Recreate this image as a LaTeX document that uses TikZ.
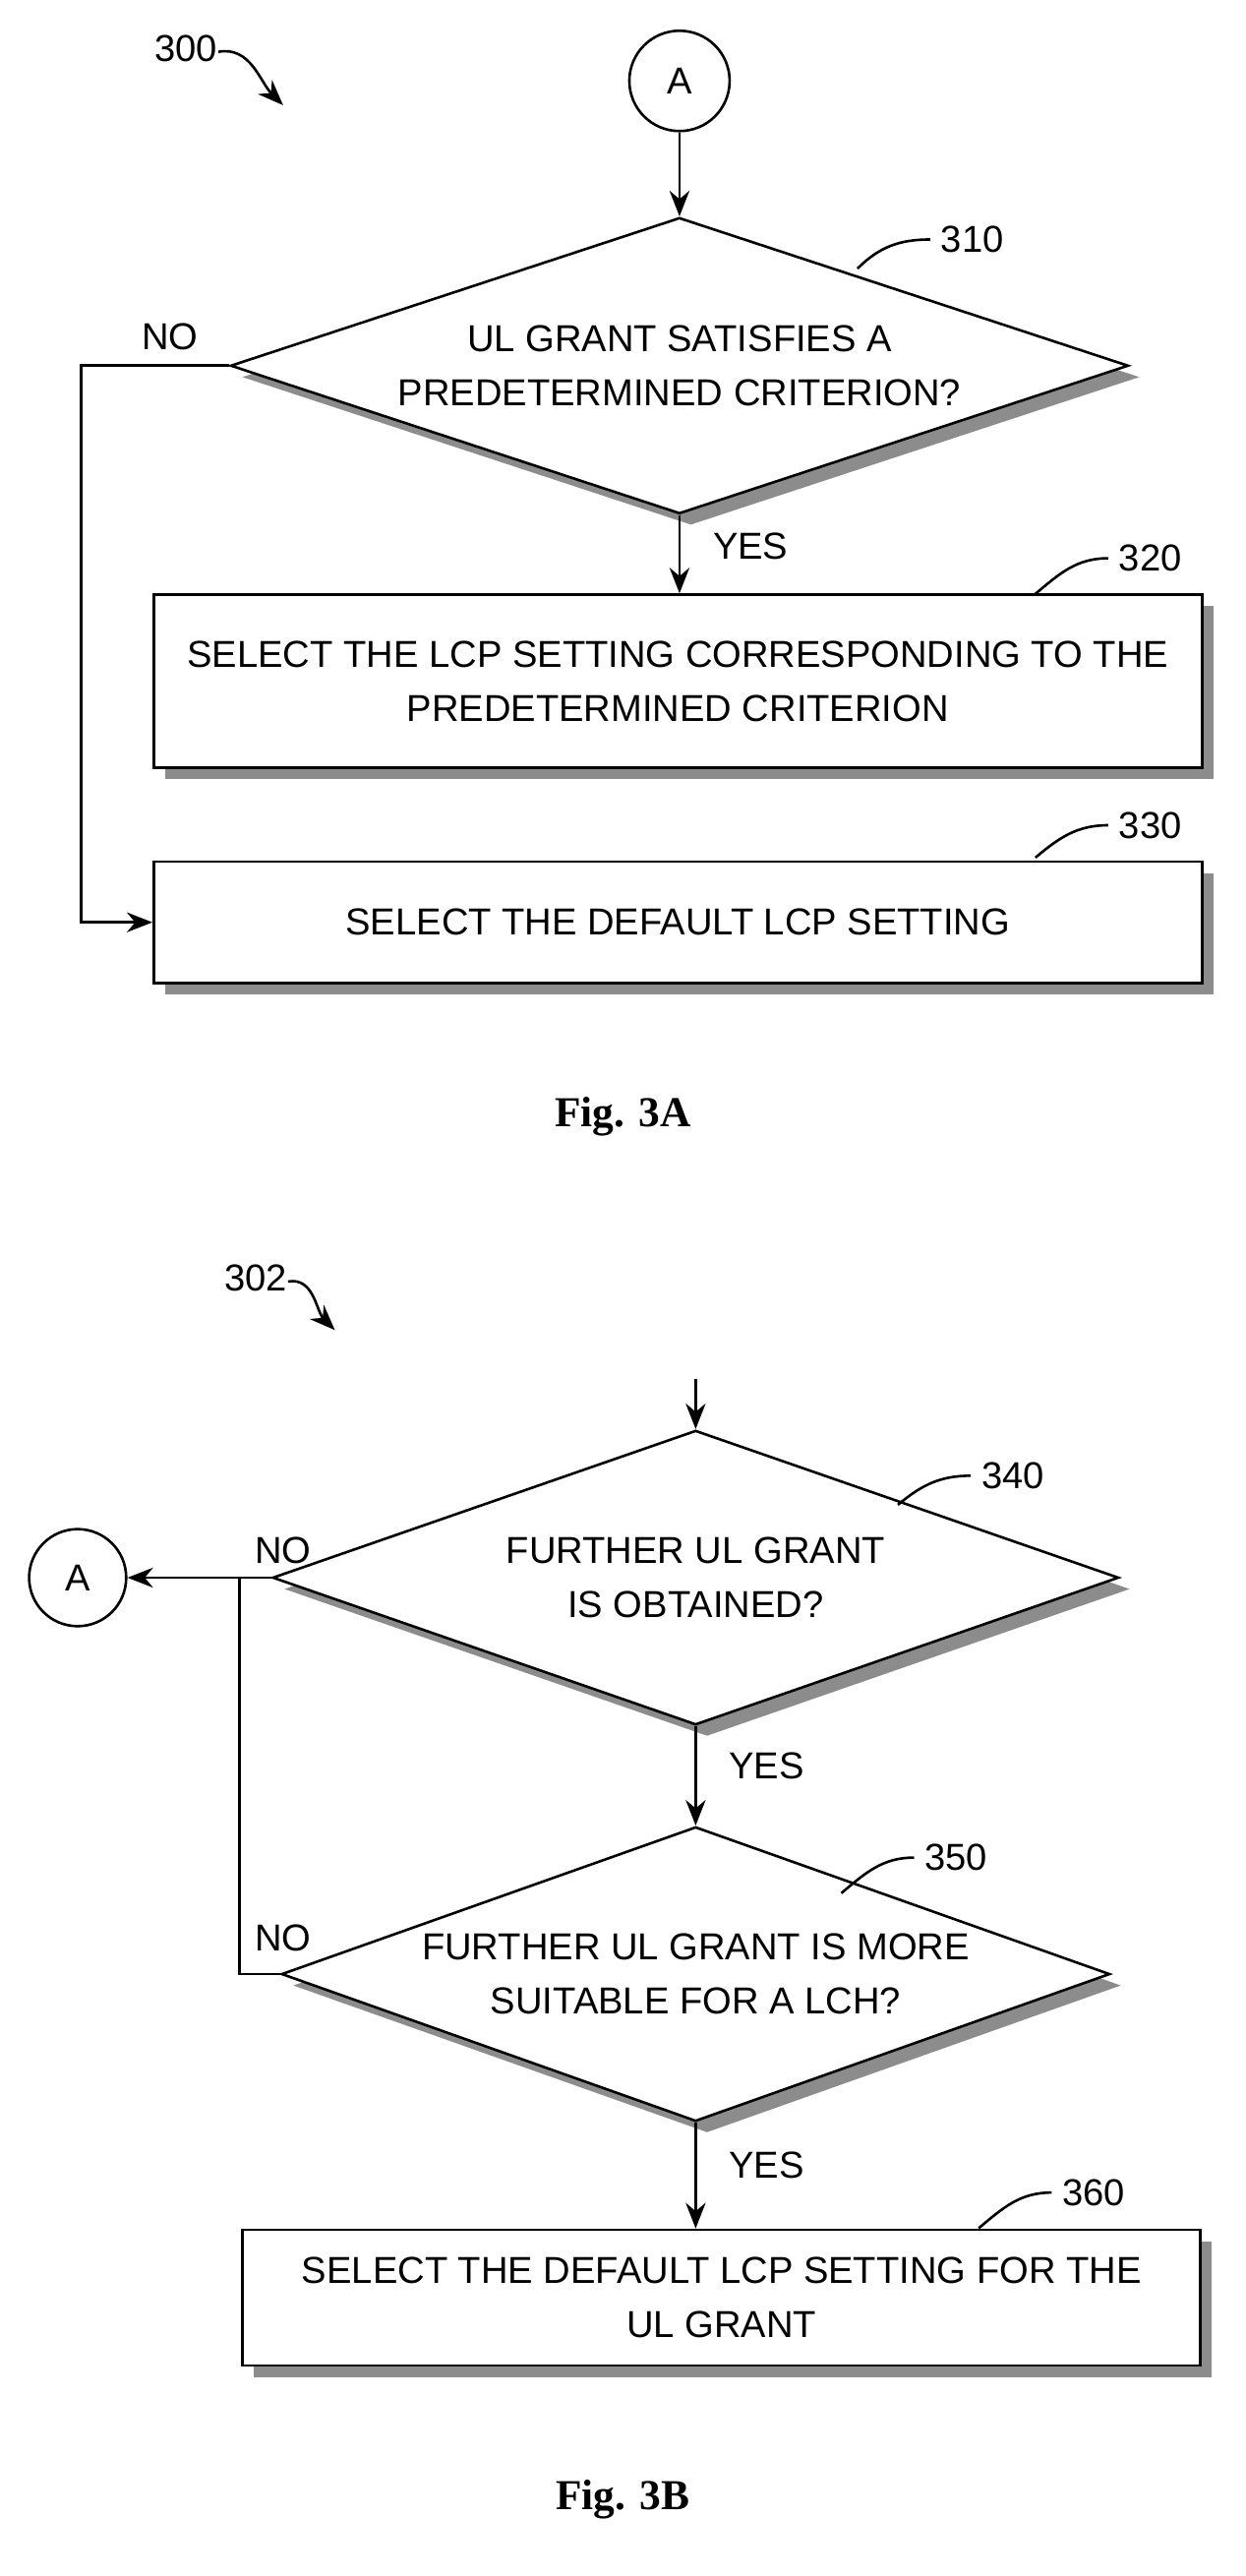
\documentclass[tikz,border=0pt]{standalone}
\usepackage{fontspec}
\setmainfont{Liberation Sans}
\newfontfamily\capfont{Liberation Serif}
\usetikzlibrary{shapes.geometric,shadows,arrows.meta}

\tikzset{
  shd/.style={drop shadow={shadow xshift=4pt, shadow yshift=-4pt, fill=black!45, opacity=1}},
  dec/.style={draw, diamond, fill=white, shd, inner sep=0pt, aspect=3, align=center},
  pbox/.style={draw, fill=white, shd, rectangle, inner sep=0pt, align=center},
  link/.style={-{Stealth[length=9pt,width=7pt]}, line width=0.9pt},
  ref/.style={line width=0.9pt},
  every node/.style={font=\fontsize{13.2}{19}\selectfont}
}

\begin{document}
\begin{tikzpicture}[x=0.02cm, y=-0.02cm, line width=0.9pt]
  \useasboundingbox (0,0) rectangle (770,1592);
  % Fig. 3A
  \node at (115,30) (n300) {300};
  \draw[link] (135,32) to[out=10,in=135] (175,65);
  \node[draw, circle, minimum size=62*0.02cm] (cA) at (420,50) {A};
  \node[dec, minimum width=555*0.02cm, minimum height=183*0.02cm] (d310) at (420,226) {UL GRANT SATISFIES A\\PREDETERMINED CRITERION?};
  \node[pbox, minimum width=648*0.02cm, minimum height=107*0.02cm] (b320) at (419,421) {SELECT THE LCP SETTING CORRESPONDING TO THE\\PREDETERMINED CRITERION};
  \node[pbox, minimum width=648*0.02cm, minimum height=75*0.02cm] (b330) at (419,570) {SELECT THE DEFAULT LCP SETTING};
  \coordinate (c1) at (50,226);
  \coordinate (c2) at (50,570);
  \draw[link] (cA) -- (d310);
  \draw[link] (d310.south) -- (d310.south |- b320.north) node[pos=0.4, right=8pt] {YES};
  \draw[link] (d310.west) -- (c1) -- (c2) -- (b330.west);
  \node at (105,208) {NO};
  \draw[ref] (530,166) to[out=45,in=180] (575,148);
  \node[anchor=west] at (575,148) {310};
  \draw[ref] (640,367) to[out=40,in=180] (685,345);
  \node[anchor=west] at (685,345) {320};
  \draw[ref] (640,530) to[out=40,in=180] (685,510);
  \node[anchor=west] at (685,510) {330};
  \node[font=\capfont\bfseries\fontsize{15}{18}\selectfont] at (385,690) {Fig. 3A};
  % Fig. 3B
  \node at (158,790) (n302) {302};
  \draw[link] (178,792) to[out=10,in=135] (207,822);
  \node[dec, minimum width=523*0.02cm, minimum height=182*0.02cm] (d340) at (430,975) {FURTHER UL GRANT\\IS OBTAINED?};
  \node[dec, minimum width=512*0.02cm, minimum height=182*0.02cm] (d350) at (430,1220) {FURTHER UL GRANT IS MORE\\SUITABLE FOR A LCH?};
  \node[pbox, minimum width=592*0.02cm, minimum height=84*0.02cm] (b360) at (446,1420) {SELECT THE DEFAULT LCP SETTING FOR THE\\UL GRANT};
  \coordinate (top) at (430,852);
  \node[draw, circle, minimum size=60*0.02cm] (cB) at (48,975) {A};
  \coordinate (c3) at (148,975);
  \coordinate (c4) at (148,1220);
  \draw[link] (top) -- (d340.north);
  \draw[link] (d340.south) -- (d350.north) node[pos=0.4, right=8pt] {YES};
  \draw[link] (d350.south) -- (d350.south |- b360.north) node[pos=0.4, right=8pt] {YES};
  \draw[link] (d340.west) -- (c3) -- (cB.east);
  \draw (c3) -- (c4) -- (d350.west);
  \node at (175,958) {NO};
  \node at (175,1198) {NO};
  \draw[ref] (555,930) to[out=40,in=180] (600,912);
  \node[anchor=west] at (600,912) {340};
  \draw[ref] (520,1170) to[out=40,in=180] (565,1148);
  \node[anchor=west] at (565,1148) {350};
  \draw[ref] (605,1377) to[out=40,in=180] (650,1355);
  \node[anchor=west] at (650,1355) {360};
  \node[font=\capfont\bfseries\fontsize{15}{18}\selectfont] at (385,1545) {Fig. 3B};
\end{tikzpicture}
\end{document}
